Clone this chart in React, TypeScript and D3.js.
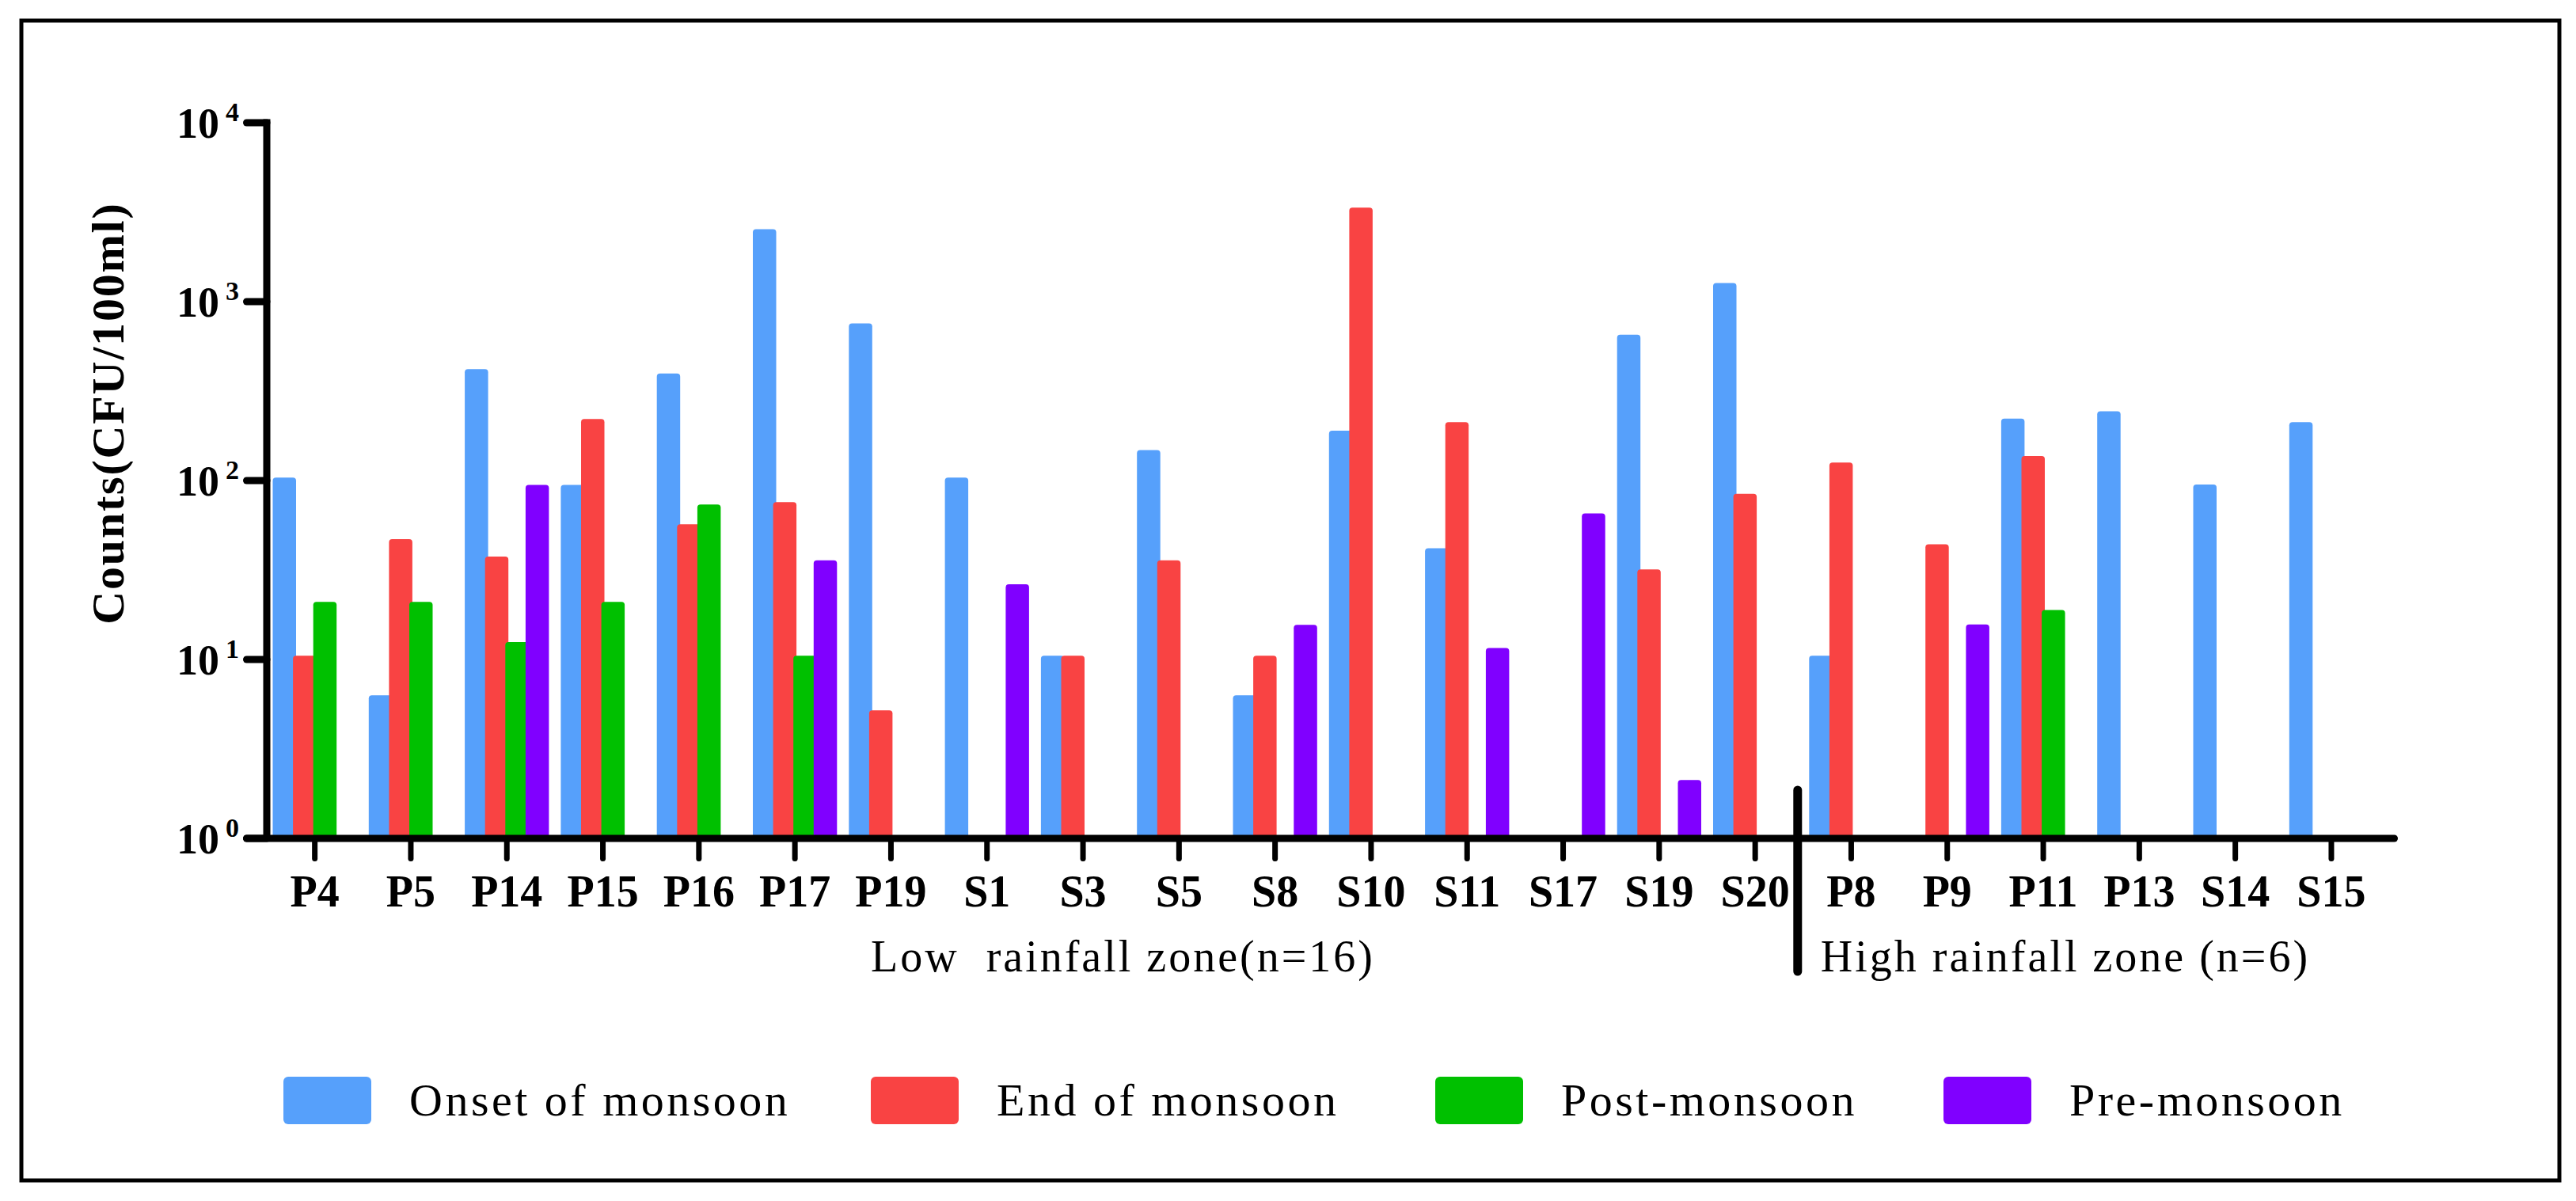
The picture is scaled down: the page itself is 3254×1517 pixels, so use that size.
import React, { useRef, useEffect } from 'react';
import * as d3 from 'd3';

// sampling sites, in the order of the x axis
const sites = ['P4', 'P5', 'P14', 'P15', 'P16', 'P17', 'P19', 'S1', 'S3', 'S5', 'S8', 'S10', 'S11', 'S17', 'S19', 'S20', 'P8', 'P9', 'P11', 'P13', 'S14', 'S15'];

// counts (CFU/100ml), null = no bar
const onsetMonsoon = [104, 6.3, 420, 94.5, 397, 2540, 755, 104, 10.5, 148, 6.3, 190, 41.9, null, 654, 1270, 10.5, null, 222, 244, 95, 212];
const endMonsoon = [10.5, 47, 37.6, 221, 57, 75.7, 5.2, null, 10.5, 35.8, 10.5, 3355, 212, null, 31.9, 84.3, 126, 44, 137, null, null, null];
const postMonsoon = [21, 21, 12.5, 21, 73.5, 10.5, null, null, null, null, null, null, null, null, null, null, null, null, 18.9, null, null, null];
const preMonsoon = [null, null, 94.5, null, null, 35.8, null, 26.3, null, null, 15.6, null, 11.6, 65.6, 2.12, null, null, 15.7, null, null, null, null];

const seriesNames = ['Onset of monsoon', 'End of monsoon', 'Post-monsoon', 'Pre-monsoon'];
const seriesColors = ['#56A0FB', '#F94343', '#00C000', '#8000FF'];

const yTickValues = [1, 10, 100, 1000, 10000];
const lowZoneLabel = 'Low  rainfall zone(n=16)';
const highZoneLabel = 'High rainfall zone (n=6)';
const yAxisTitle = 'Counts(CFU/100ml)';

const FONT = '"Liberation Serif", "Times New Roman", serif';
const W = 3254;
const H = 1517;

type Sel = d3.Selection<SVGSVGElement, unknown, null, undefined>;

const roundedTop = (x0: number, y0: number, w: number, h: number, r: number) => {
  const rr = Math.min(r, h);
  return `M${x0},${y0 + h}V${y0 + rr}Q${x0},${y0} ${x0 + rr},${y0}H${x0 + w - rr}Q${x0 + w},${y0} ${x0 + w},${y0 + rr}V${y0 + h}Z`;
};

const drawBars = (svg: Sel, x: d3.ScaleBand<string>, y: d3.ScaleLogarithmic<number, number>) => {
  const series = [onsetMonsoon, endMonsoon, postMonsoon, preMonsoon];
  const step = 25.6;
  const barW = 29.5;
  series.forEach((values, si) => {
    const rows = sites.map((s, i) => ({ site: s, v: values[i] })).filter((d) => d.v != null) as { site: string; v: number }[];
    svg.append('g')
      .selectAll('path')
      .data(rows)
      .enter().append('path')
      .attr('d', (d) => {
        const cx = (x(d.site) as number) + x.bandwidth() / 2 + (si - 1.5) * step;
        const top = y(d.v);
        return roundedTop(cx - barW / 2, top, barW, y(1) - top, 4);
      })
      .attr('fill', seriesColors[si]);
  });
};

const drawAxes = (svg: Sel, x: d3.ScaleBand<string>, y: d3.ScaleLogarithmic<number, number>) => {
  const axisX = 337;
  const base = y(1);
  const g = svg.append('g');

  // y axis line + ticks
  g.append('line').attr('x1', axisX).attr('x2', axisX).attr('y1', y(10000) - 4.5).attr('y2', base)
    .attr('stroke', '#000').attr('stroke-width', 9);
  g.selectAll('line.yt').data(yTickValues).enter().append('line')
    .attr('x1', 311.5).attr('x2', axisX).attr('y1', (d) => y(d)).attr('y2', (d) => y(d))
    .attr('stroke', '#000').attr('stroke-width', 9).attr('stroke-linecap', 'round');

  const lab = g.selectAll('g.yl').data(yTickValues).enter().append('g');
  lab.append('text')
    .attr('x', 277).attr('y', (d) => y(d) + 19)
    .attr('text-anchor', 'end')
    .style('font-family', FONT).style('font-size', '54px').style('font-weight', 'bold')
    .text('10');
  lab.append('text')
    .attr('x', 285).attr('y', (d) => y(d) - 2)
    .style('font-family', FONT).style('font-size', '34px').style('font-weight', 'bold')
    .text((d) => String(Math.round(Math.log10(d))));

  // x axis line + ticks
  g.append('line').attr('x1', 311.5).attr('x2', 3024.5).attr('y1', base).attr('y2', base)
    .attr('stroke', '#000').attr('stroke-width', 9).attr('stroke-linecap', 'round');
  g.selectAll('line.xt').data(sites).enter().append('line')
    .attr('x1', (d) => (x(d) as number) + x.bandwidth() / 2)
    .attr('x2', (d) => (x(d) as number) + x.bandwidth() / 2)
    .attr('y1', base).attr('y2', 1084.5)
    .attr('stroke', '#000').attr('stroke-width', 7).attr('stroke-linecap', 'round');
  g.selectAll('text.xl').data(sites).enter().append('text')
    .attr('x', (d) => (x(d) as number) + x.bandwidth() / 2)
    .attr('y', 1145)
    .attr('text-anchor', 'middle')
    .style('font-family', FONT).style('font-size', '56px').style('font-weight', 'bold')
    .text((d) => d);

  // y axis title
  g.append('text')
    .attr('transform', 'translate(156,522) rotate(-90)')
    .attr('text-anchor', 'middle')
    .style('font-family', FONT).style('font-size', '58px').style('font-weight', 'bold')
    .style('letter-spacing', '1.8px')
    .text(yAxisTitle);

  // zone divider and labels
  const divX = x('P8') as number - 7;
  g.append('line').attr('x1', divX).attr('x2', divX).attr('y1', 998).attr('y2', 1227)
    .attr('stroke', '#000').attr('stroke-width', 11).attr('stroke-linecap', 'round');
  g.append('text')
    .attr('x', 1100).attr('y', 1227)
    .style('font-family', FONT).style('font-size', '56px').style('letter-spacing', '3px')
    .style('white-space', 'pre')
    .text(lowZoneLabel);
  g.append('text')
    .attr('x', divX + 29).attr('y', 1227)
    .style('font-family', FONT).style('font-size', '56px').style('letter-spacing', '3px')
    .style('white-space', 'pre')
    .text(highZoneLabel);
};

const drawLegend = (svg: Sel) => {
  const itemX = [358, 1100, 1813, 2455];
  const leg = svg.append('g');
  const item = leg.selectAll('g').data(seriesNames).enter().append('g')
    .attr('transform', (d, i) => `translate(${itemX[i]},1360)`);
  item.append('rect')
    .attr('width', 111).attr('height', 60).attr('rx', 6)
    .attr('fill', (d, i) => seriesColors[i]);
  item.append('text')
    .attr('x', 159).attr('y', 49)
    .style('font-family', FONT).style('font-size', '58px').style('letter-spacing', '3.5px')
    .text((d) => d);
};

const App: React.FC = () => {
  const svgRef = useRef<SVGSVGElement | null>(null);

  useEffect(() => {
    if (!svgRef.current) return;
    const svg = d3.select<SVGSVGElement, unknown>(svgRef.current);
    svg.selectAll('*').remove();

    svg.append('rect').attr('width', W).attr('height', H).attr('fill', '#fff');
    svg.append('rect').attr('x', 27).attr('y', 26).attr('width', 3206).attr('height', 1465)
      .attr('fill', 'none').attr('stroke', '#000').attr('stroke-width', 5);

    const x = d3.scaleBand<string>().domain(sites).range([337, 337 + sites.length * 121.3]);
    const y = d3.scaleLog().domain([1, 10000]).range([1059, 155]);

    drawBars(svg, x, y);
    drawAxes(svg, x, y);
    drawLegend(svg);
  }, []);

  return (
    <svg ref={svgRef} width={W} height={H} style={{ position: 'absolute', left: 0, top: 0, display: 'block' }}></svg>
  );
};

export default App;
